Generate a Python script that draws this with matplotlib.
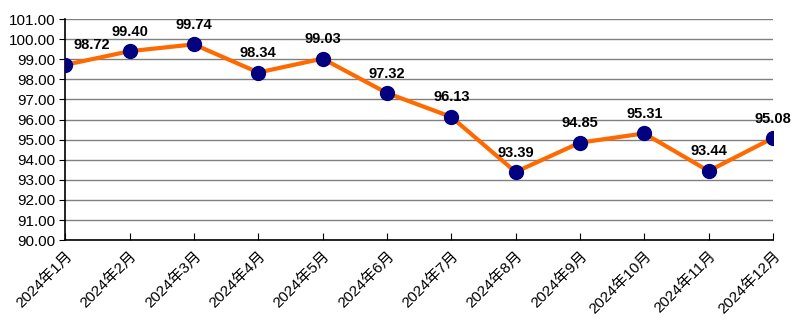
import matplotlib
matplotlib.use("Agg")
import matplotlib.pyplot as plt

# ---------- DATA ----------
months = ["2024年1月", "2024年2月", "2024年3月", "2024年4月", "2024年5月", "2024年6月",
          "2024年7月", "2024年8月", "2024年9月", "2024年10月", "2024年11月", "2024年12月"]
values = [98.72, 99.40, 99.74, 98.34, 99.03, 97.32, 96.13, 93.39, 94.85, 95.31, 93.44, 95.08]
y_ticks = [90, 91, 92, 93, 94, 95, 96, 97, 98, 99, 100, 101]

plt.rcParams['font.family'] = ['Liberation Sans', 'Noto Sans CJK SC', 'DejaVu Sans']

fig = plt.figure(figsize=(7.96, 3.34), dpi=100)
ax = fig.add_axes([0.082, 0.281, 0.889, 0.662])

x = list(range(len(months)))
ax.plot(x, values, color="#FF6A00", linewidth=3, zorder=3)
ax.plot(x, values, "o", color="#000080", markersize=10, zorder=4)

for xi, v in zip(x, values):
    # first label sits to the right of the point (it is on the axis)
    off = (6, 9) if xi == 0 else (0, 9)
    ha = "left" if xi == 0 else "center"
    ax.annotate(f"{v:.2f}", (xi, v), xytext=off, textcoords="offset points",
                ha=ha, va="bottom", fontsize=10.5, fontweight="bold")

ax.set_xlim(0, len(months) - 1)
ax.set_ylim(90, 101)
ax.set_yticks(y_ticks)
ax.set_yticklabels([f"{t:.2f}" for t in y_ticks], fontsize=11)
ax.set_xticks(x)
ax.set_xticklabels(months, rotation=45, ha="right", rotation_mode="anchor", fontsize=11)

ax.grid(axis="y", color="#808080", linewidth=1)
ax.set_axisbelow(True)
for side in ["top", "right"]:
    ax.spines[side].set_visible(False)
ax.spines["left"].set_linewidth(1.2)
ax.spines["bottom"].set_linewidth(1.2)
ax.tick_params(axis="x", direction="in", length=5, pad=6)
ax.tick_params(axis="y", direction="out", length=4, pad=3)

fig.savefig("out.png", dpi=100)
